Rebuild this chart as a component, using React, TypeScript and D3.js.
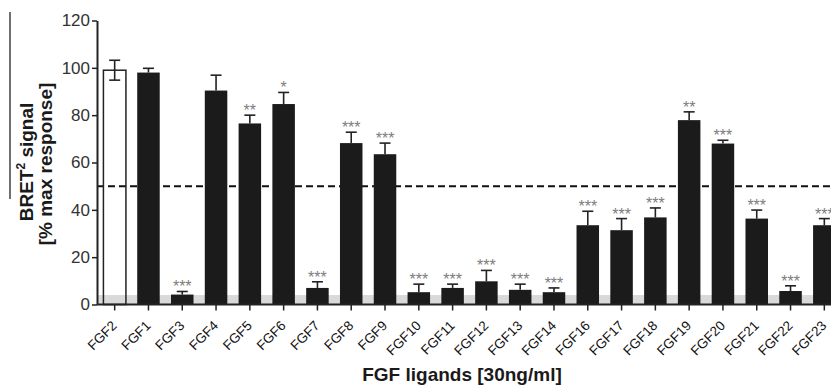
import React, { useEffect, useRef } from "react";
import * as d3 from "d3";

// ligands, in plotted order
const categories = [
  "FGF2", "FGF1", "FGF3", "FGF4", "FGF5", "FGF6", "FGF7", "FGF8", "FGF9", "FGF10", "FGF11",
  "FGF12", "FGF13", "FGF14", "FGF16", "FGF17", "FGF18", "FGF19", "FGF20", "FGF21", "FGF22", "FGF23",
];
// % max response
const means = [99, 98, 4.2, 90.4, 76.5, 84.7, 7, 68.2, 63.5, 5.2, 7, 9.8, 6.2, 5.2, 33.5, 31.4, 36.8, 77.9, 68, 36.3, 5.7, 33.5];
const errors = [4.2, 1.8, 1.3, 6.5, 3.5, 4.9, 2.6, 4.6, 4.7, 3.4, 1.6, 4.6, 2.4, 1.8, 5.9, 4.9, 4, 3.5, 1.4, 3.6, 2.2, 2.8];
const stars = ["", "", "***", "", "**", "*", "***", "***", "***", "***", "***", "***", "***", "***", "***", "***", "***", "**", "***", "***", "***", "***"];
const yTicks = [0, 20, 40, 60, 80, 100, 120];
const threshold = 50;
const baselineBand = 4;

const FONT = "'Liberation Sans', Arial, Helvetica, sans-serif";

export default function App() {
  const svgRef = useRef<SVGSVGElement>(null);

  useEffect(() => {
    const width = 831;
    const height = 385;
    const svg = d3.select(svgRef.current).attr("width", width).attr("height", height);
    svg.selectAll("*").remove();

    const y = d3.scaleLinear().domain([0, 120]).range([304.5, 20.5]);
    const x = d3.scaleBand<string>()
      .domain(categories)
      .range([97, 842])
      .paddingInner(0.334)
      .paddingOuter(0.19);

    const x0 = 97;

    // grey band near zero
    svg.append("rect")
      .attr("x", x0)
      .attr("y", y(baselineBand))
      .attr("width", width - x0)
      .attr("height", y(0) - y(baselineBand))
      .attr("fill", "#d9d9d9");

    // dashed 50% line
    svg.append("line")
      .attr("x1", x0).attr("x2", width)
      .attr("y1", y(threshold)).attr("y2", y(threshold))
      .attr("stroke", "#111")
      .attr("stroke-width", 2)
      .attr("stroke-dasharray", "7,4");

    const data = categories.map((c, i) => ({ c, m: means[i], e: errors[i], s: stars[i], i }));
    const bw = x.bandwidth();
    const cap = 11;

    // error bars (upper whisker, FGF2 both ways)
    const eb = svg.append("g").attr("stroke", "#222").attr("stroke-width", 1.6);
    data.forEach((d) => {
      const cx = (x(d.c) as number) + bw / 2;
      const lo = d.i === 0 ? d.m - d.e : d.m;
      eb.append("line").attr("x1", cx).attr("x2", cx).attr("y1", y(lo)).attr("y2", y(d.m + d.e));
      eb.append("line").attr("x1", cx - cap / 2).attr("x2", cx + cap / 2).attr("y1", y(d.m + d.e)).attr("y2", y(d.m + d.e));
      if (d.i === 0) {
        eb.append("line").attr("x1", cx - cap / 2).attr("x2", cx + cap / 2).attr("y1", y(lo)).attr("y2", y(lo));
      }
    });

    // bars
    svg.append("g")
      .selectAll("rect")
      .data(data)
      .join("rect")
      .attr("x", (d) => x(d.c) as number)
      .attr("y", (d) => y(d.m))
      .attr("width", bw)
      .attr("height", (d) => y(0) - y(d.m))
      .attr("fill", (d) => (d.i === 0 ? "none" : "#1b1b1b"))
      .attr("stroke", (d) => (d.i === 0 ? "#222" : "none"))
      .attr("stroke-width", 1.5);

    // significance stars
    svg.append("g")
      .selectAll("text")
      .data(data.filter((d) => d.s))
      .join("text")
      .attr("x", (d) => (x(d.c) as number) + bw / 2)
      .attr("y", (d) => y(d.m + d.e) + 1)
      .attr("text-anchor", "middle")
      .attr("font-family", FONT)
      .attr("font-size", 16)
      .attr("fill", "#7d7d7d")
      .text((d) => d.s);

    // x axis
    const xAxis = d3.axisBottom(x).tickSize(6).tickSizeOuter(0);
    const gx = svg.append("g").attr("transform", `translate(0,${y(0)})`).call(xAxis);
    gx.select(".domain").attr("stroke", "#222").attr("stroke-width", 2).attr("d", `M${x0},0H${width}`);
    gx.selectAll(".tick line").attr("stroke", "#222").attr("stroke-width", 1.5);
    gx.selectAll(".tick text")
      .attr("font-family", FONT)
      .attr("font-size", 13.5)
      .attr("fill", "#111")
      .attr("text-anchor", "end")
      .attr("dy", null)
      .attr("y", null)
      .attr("transform", "translate(3,22) rotate(-45)");

    // y axis
    const yAxis = d3.axisLeft(y).tickValues(yTicks).tickSize(5).tickSizeOuter(0).tickPadding(2);
    const gy = svg.append("g").attr("transform", `translate(${x0},0)`).call(yAxis);
    gy.select(".domain").attr("stroke", "#222").attr("stroke-width", 2);
    gy.selectAll(".tick line").attr("stroke", "#222").attr("stroke-width", 1.5);
    gy.selectAll(".tick text")
      .attr("font-family", FONT)
      .attr("font-size", 17)
      .attr("fill", "#333");

    // axis titles
    svg.append("text")
      .attr("x", 462)
      .attr("y", 381)
      .attr("text-anchor", "middle")
      .attr("font-family", FONT)
      .attr("font-size", 19)
      .attr("font-weight", "bold")
      .attr("fill", "#1a1a1a")
      .text("FGF ligands [30ng/ml]");

    const t1 = svg.append("text")
      .attr("transform", "translate(33,162) rotate(-90)")
      .attr("text-anchor", "middle")
      .attr("font-family", FONT)
      .attr("font-size", 19)
      .attr("font-weight", "bold")
      .attr("fill", "#1a1a1a");
    t1.append("tspan").text("BRET");
    t1.append("tspan").attr("font-size", 12).attr("dy", -8).text("2");
    t1.append("tspan").attr("dy", 8).text(" signal");

    svg.append("text")
      .attr("transform", "translate(52,164) rotate(-90)")
      .attr("text-anchor", "middle")
      .attr("font-family", FONT)
      .attr("font-size", 19)
      .attr("font-weight", "bold")
      .attr("fill", "#1a1a1a")
      .text("[% max response]");

    // the overline over BRET (sits offset in the original)
    svg.append("line")
      .attr("x1", 10).attr("x2", 10)
      .attr("y1", 12).attr("y2", 199)
      .attr("stroke", "#222")
      .attr("stroke-width", 1.3);
  }, []);

  return (
    <svg
      ref={svgRef}
      style={{ position: "absolute", left: 0, top: 0, display: "block", background: "#fff" }}
    />
  );
}
